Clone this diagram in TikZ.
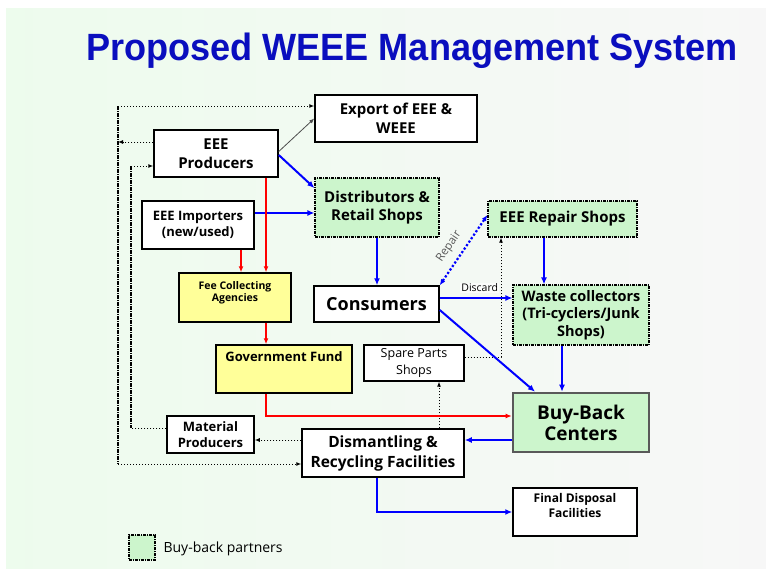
\documentclass[tikz,border=0pt]{standalone}
\usepackage{fontspec}
\setmainfont{Open Sans}
\newfontfamily\titlefont[FakeStretch=0.95]{Liberation Sans}
\usetikzlibrary{arrows.meta}
\definecolor{partner}{RGB}{204,245,204}
\definecolor{fund}{RGB}{255,255,153}
\definecolor{arrowblue}{RGB}{0,0,255}
\definecolor{titleblue}{RGB}{10,14,190}
\newcommand\fsz[2]{\fontsize{#1}{#2}\selectfont}
\tikzset{
	box/.style={draw=black, line width=1.5pt, fill=white, align=center, inner sep=0pt},
	partnerbox/.style={box, fill=partner, line width=1.2pt, dash pattern=on 3pt off 1pt on 1pt off 1pt},
	fundbox/.style={box, fill=fund},
	blueflow/.style={draw=arrowblue, line width=2pt, -{Latex[length=7pt,width=6pt]}},
	redflow/.style={draw=red, line width=1.8pt, -{Latex[length=6pt,width=5pt]}},
	dotflow/.style={draw=black, dotted, line width=1pt, -{Latex[length=5pt,width=4pt]}},
	busline/.style={draw=black, line width=1.2pt, dash pattern=on 4pt off 1pt on 1pt off 1pt}
}
\begin{document}
\begin{tikzpicture}[x=1pt, y=-1pt]
				%page and background
				\useasboundingbox (0,0) rectangle (766,568);
				\fill[white] (0,0) rectangle (766,568);
				\shade[left color=black!19!green!7!white, right color=black!3] (6,8) rectangle (766,568);
				\node[font=\titlefont\fsz{38}{44}\bfseries, text=titleblue, anchor=base] (title) at (412,60) {Proposed WEEE Management System};
				%boxes
				\node[box, minimum width=162pt, minimum height=47pt, font=\fsz{15}{19}\bfseries] (export) at (396,118.5) {Export of EEE \&\\WEEE};
				\node[box, minimum width=124pt, minimum height=47pt, font=\fsz{15}{19}\bfseries] (producers) at (216,153.5) {EEE\\Producers};
				\node[partnerbox, minimum width=124pt, minimum height=59pt, font=\fsz{15}{18}\bfseries] (distributors) at (377,207.5) {Distributors \&\\Retail Shops};
				\node[box, minimum width=112pt, minimum height=48pt, font=\fsz{13}{16}\bfseries] (importers) at (198,225) {EEE Importers\\(new/used)};
				\node[fundbox, minimum width=112pt, minimum height=49pt, text height=20pt, text depth=13pt, font=\fsz{10.5}{12}\bfseries] (fee) at (235,297.5) {Fee Collecting\\Agencies};
				\node[fundbox, minimum width=136pt, minimum height=48pt, text height=9pt, text depth=24pt, font=\fsz{13}{16}\bfseries] (gov) at (284,369) {Government Fund};
				\node[box, minimum width=125pt, minimum height=36pt, font=\fsz{18}{22}\bfseries] (consumers) at (376.5,304) {Consumers};
				\node[partnerbox, minimum width=149pt, minimum height=36pt, font=\fsz{15}{18}\bfseries] (repair) at (562.5,219) {EEE Repair Shops};
				\node[partnerbox, minimum width=136pt, minimum height=60pt, font=\fsz{14.5}{17.7}\bfseries] (waste) at (581,315) {Waste collectors\\(Tri-cyclers/Junk\\Shops)};
				\node[box, minimum width=100pt, minimum height=36pt, line width=1.2pt, font=\fsz{12.5}{17}] (spare) at (414,363) {Spare Parts\\Shops};
				\node[box, fill=partner, draw=black!65, line width=2.6pt, minimum width=136pt, minimum height=59pt, font=\fsz{19}{21}\bfseries] (buyback) at (581,422.5) {Buy-Back\\Centers};
				\node[box, minimum width=87pt, minimum height=37pt, font=\fsz{13}{16}\bfseries] (matprod) at (210.5,434.5) {Material\\Producers};
				\node[box, minimum width=162pt, minimum height=48pt, font=\fsz{15.5}{20}\bfseries] (dismantling) at (383,453) {Dismantling \&\\Recycling Facilities};
				\node[box, minimum width=124pt, minimum height=48pt, text height=21pt, text depth=11pt, font=\fsz{12}{15}\bfseries] (final) at (575,512) {Final Disposal\\Facilities};
				%left bus lines
				\coordinate (bustop) at (118,106);
				\coordinate (busprod) at (118,142);
				\coordinate (busbot) at (118,464);
				\coordinate (mattop) at (131,166);
				\coordinate (matbot) at (131,428);
				\draw[busline] (bustop) -- (busbot);
				\draw[busline] (mattop) -- (matbot);
				\draw[dotflow] (bustop) -- (bustop -| export.west);
				\draw[dotflow] (busprod -| producers.west) -- (busprod);
				\draw[dotflow] (busbot) -- (busbot -| dismantling.west);
				\draw[dotted, line width=1pt] (matbot -| matprod.west) -- (matbot);
				\draw[dotflow] (mattop) -- (mattop -| producers.west);
				\draw[dotflow] ([yshift=13pt]dismantling.west) -- ([yshift=13pt]dismantling.west -| matprod.east);
				%black dotted links
				\draw[dotflow] ([xshift=56pt]dismantling.north) -- ([xshift=56pt]dismantling.north |- spare.south);
				\draw[dotflow] ([yshift=6pt]spare.east) -| ([xshift=-61.5pt]repair.south);
				\draw[black!70, line width=0.8pt, -{Latex[length=5pt,width=4pt]}] ([yshift=2pt]producers.east) -- (export.west);
				%blue flows
				\draw[blueflow] ([yshift=-1.5pt]producers.east) -- ([yshift=19.5pt]distributors.west);
				\draw[blueflow] ([yshift=12pt]importers.east) -- ([yshift=12pt]importers.east -| distributors.west);
				\draw[blueflow] (distributors.south) -- (distributors.south |- consumers.north);
				\draw[blueflow] ([yshift=6pt]consumers.east) -- ([yshift=6pt]consumers.east -| waste.west) node[pos=0.55, above=4pt, font=\fsz{10.5}{12}, fill=white, fill opacity=0.7, text opacity=1, inner sep=1pt] (discard) {Discard};
				\draw[blueflow] ([yshift=-6pt]consumers.east) -- ([xshift=-46pt]buyback.north);
				\draw[blueflow] ([xshift=-18.5pt]repair.south) -- ([xshift=-18.5pt]repair.south |- waste.north);
				\draw[blueflow] ([xshift=-19pt]waste.south) -- ([xshift=-19pt]buyback.north);
				\draw[blueflow] ([yshift=-17.5pt]buyback.west) -- ([yshift=-17.5pt]buyback.west -| dismantling.east);
				\draw[blueflow] ([xshift=-6pt]dismantling.south) |- (final.west);
				\draw[arrowblue, dotted, line width=2.2pt, {Latex[length=6pt,width=5pt]}-{Latex[length=6pt,width=5pt]}] (consumers.north east) -- node[pos=0.44, sloped, above=4pt, font=\fsz{11.5}{12}, text=black!65] (repairlabel) {Repair} ([yshift=4pt]repair.west);
				%red flows
				\draw[redflow] ([xshift=50pt]producers.south) -- ([xshift=50pt]producers.south |- fee.north);
				\draw[redflow] ([xshift=43pt]importers.south) -- ([xshift=43pt]importers.south |- fee.north);
				\draw[redflow] ([xshift=31pt]fee.south) -- ([xshift=31pt]fee.south |- gov.north);
				\draw[redflow] ([xshift=-18pt]gov.south) |- ([yshift=6.5pt]buyback.west);
				%legend
				\node[partnerbox, minimum width=26pt, minimum height=25pt] (legendbox) at (142,547.5) {};
				\node[anchor=west, font=\fsz{14}{17}] (legendtext) at (160,549) {Buy-back partners};
			\end{tikzpicture}
\end{document}
